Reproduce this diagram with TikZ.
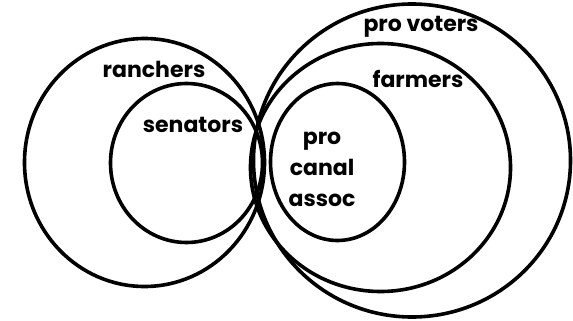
\documentclass[tikz,border=0pt]{standalone}
\usepackage{fontspec}
\newfontfamily\labfont{Poppins}
\begin{document}
\begin{tikzpicture}[x=1pt,y=-1pt,
  ring/.style={line width=3.6pt},
  lab/.style={font=\labfont\bfseries\fontsize{22}{31}\selectfont, inner sep=0pt, align=center}]
\useasboundingbox (0,0) rectangle (573,321);
% left group
\draw[ring] (144.5,162.5) ellipse [x radius=120, y radius=124];
\draw[ring] (186.5,163) ellipse [x radius=76, y radius=79.5];
% right group
\draw[ring] (337.5,162) ellipse [x radius=67, y radius=78.5];
\draw[ring] (380.5,167.5) ellipse [x radius=130, y radius=124];
\draw[ring] (412,160.5) ellipse [x radius=158.5, y radius=156.5];
% labels
\node[lab] (ranchers) at (154,69) {ranchers};
\node[lab] (senators) at (193,125) {senators};
\node[lab] (provoters) at (421,27) {pro voters};
\node[lab] (farmers) at (418,79) {farmers};
\node[lab] (procanal) at (322,169) {pro\\canal\\assoc};
\end{tikzpicture}
\end{document}
